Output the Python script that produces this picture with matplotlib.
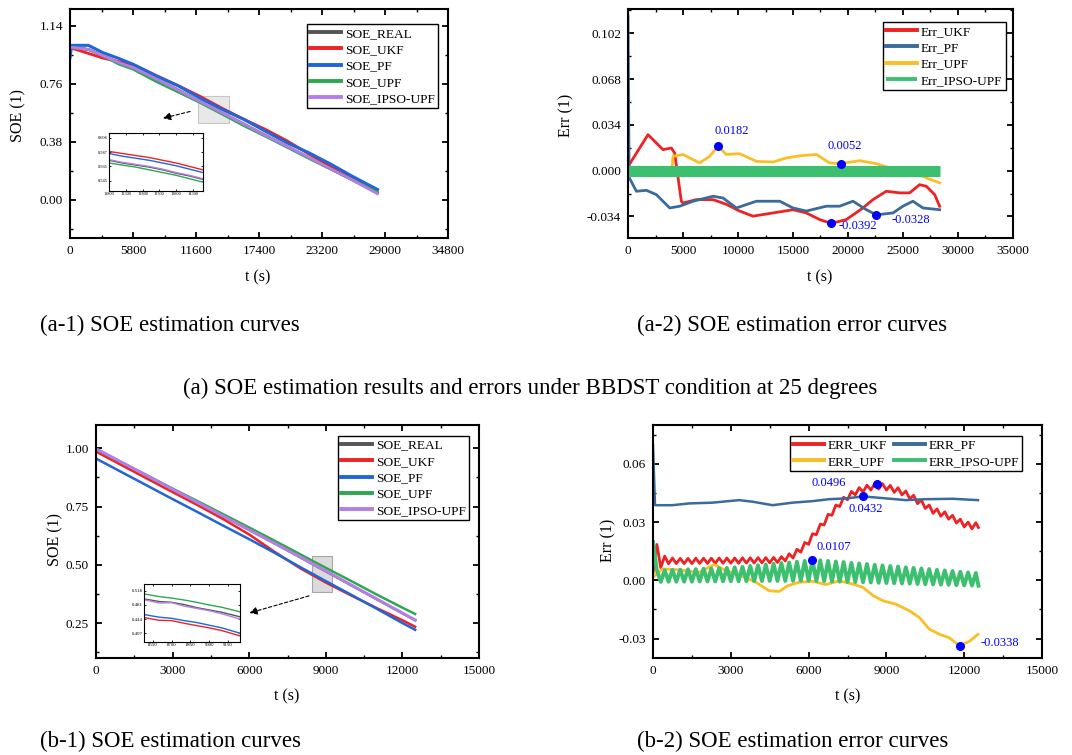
import numpy as np
import matplotlib
matplotlib.use('Agg')
import matplotlib.pyplot as plt
from matplotlib.ticker import MultipleLocator, FormatStrFormatter, FixedLocator
from matplotlib.patches import Rectangle

# ---------------- data: (a-1) SOE curves, BBDST 25 deg ----------------
a1_t = [0, 1700, 3000, 4500, 5800, 8000, 10000, 12000, 14000, 16000, 18000, 20000, 22000, 24000, 26000, 28300]
a1_real = [1.000, 0.985, 0.945, 0.900, 0.865, 0.790, 0.718, 0.643, 0.570, 0.497, 0.423, 0.350, 0.277, 0.203, 0.130, 0.045]
a1_ukf = [0.997, 0.959, 0.929, 0.905, 0.887, 0.812, 0.747, 0.677, 0.600, 0.528, 0.461, 0.386, 0.300, 0.219, 0.142, 0.066]
a1_pf_t = [0, 150, 1700, 3000, 4500, 5800, 8000, 10000, 12000, 14000, 16000, 18000, 20000, 22000, 24000, 26000, 28300]
a1_pf = [0.930, 1.012, 1.012, 0.965, 0.926, 0.888, 0.810, 0.745, 0.665, 0.593, 0.527, 0.449, 0.373, 0.308, 0.234, 0.154, 0.068]
a1_upf = [1.000, 0.985, 0.945, 0.889, 0.856, 0.773, 0.705, 0.636, 0.562, 0.486, 0.416, 0.344, 0.271, 0.201, 0.131, 0.050]
a1_ipso = [1.000, 0.985, 0.945, 0.899, 0.866, 0.790, 0.717, 0.643, 0.571, 0.497, 0.422, 0.350, 0.278, 0.203, 0.130, 0.040]

a1_in_t = [11800, 12200, 12600, 13000, 13400, 13800, 14200, 14600]
a1_in_real = [0.575, 0.571, 0.568, 0.565, 0.561, 0.556, 0.552, 0.547]
a1_in_ukf = [0.588, 0.585, 0.582, 0.579, 0.575, 0.571, 0.566, 0.561]
a1_in_pf = [0.585, 0.581, 0.578, 0.575, 0.571, 0.567, 0.562, 0.557]
a1_in_upf = [0.571, 0.568, 0.565, 0.561, 0.557, 0.553, 0.548, 0.543]
a1_in_ipso = [0.576, 0.572, 0.569, 0.566, 0.562, 0.557, 0.553, 0.548]

# ---------------- data: (a-2) errors ----------------
a2_ukf_t = [0, 1820, 3180, 3940, 4240, 4850, 5000, 6210, 7730, 8940, 10150, 11360, 13180, 15000, 16210, 17420,
            18480, 19850, 21360, 22270, 23480, 24690, 25600, 26510, 27120, 27880, 28330]
a2_ukf = [0.003, 0.0267, 0.0156, 0.0168, 0.0131, -0.0227, -0.024, -0.0215, -0.0215, -0.025, -0.030, -0.0338, -0.0314,
          -0.029, -0.0314, -0.0363, -0.0392, -0.0363, -0.0277, -0.0215, -0.0153, -0.0165, -0.0165, -0.0104, -0.0116,
          -0.0178, -0.0264]
a2_pf_t = [0, 100, 760, 1670, 2580, 3790, 4700, 5910, 7730, 8640, 9850, 11670, 13790, 15000, 16210, 18030, 19240,
           20450, 21670, 22570, 24090, 24990, 25900, 26810, 28330]
a2_pf = [0.115, -0.005, -0.0153, -0.0146, -0.0178, -0.0277, -0.0264, -0.0227, -0.019, -0.0203, -0.0277, -0.0227,
         -0.0227, -0.0277, -0.030, -0.0264, -0.0264, -0.0227, -0.029, -0.0328, -0.0314, -0.0264, -0.0227, -0.0277, -0.029]
a2_upf_t = [4000, 4090, 5000, 6510, 7420, 8180, 8940, 10150, 11670, 13180, 14390, 15600, 17120, 18330, 19330, 21060,
            22570, 23790, 25300, 26210, 27120, 28330]
a2_upf = [0.001, 0.0106, 0.012, 0.0057, 0.0106, 0.0182, 0.012, 0.0126, 0.0069, 0.0064, 0.0094, 0.011, 0.012, 0.0057,
          0.0052, 0.0074, 0.0052, 0.002, 0.0007, -0.0017, -0.0054, -0.0091]
a2_ipso_t = [0, 7000, 14000, 21000, 28400]
a2_ipso = [0.0, 0.0, 0.0, 0.0, 0.0]
a2_marks_t = [8180, 19330, 18480, 22570]
a2_marks_v = [0.0182, 0.0052, -0.0392, -0.0328]
a2_marks_lbl = ['0.0182', '0.0052', '-0.0392', '-0.0328']

# ---------------- data: (b-1) SOE curves ----------------
b1_t = [0, 1000, 2000, 3000, 4000, 5000, 6000, 7000, 8000, 9000, 10000, 11000, 12000, 12500]
b1_real = [0.996, 0.938, 0.880, 0.822, 0.765, 0.707, 0.650, 0.592, 0.532, 0.472, 0.412, 0.352, 0.292, 0.262]
b1_ukf = [0.986, 0.928, 0.870, 0.812, 0.755, 0.695, 0.630, 0.555, 0.485, 0.424, 0.368, 0.314, 0.262, 0.234]
b1_pf = [0.956, 0.898, 0.840, 0.782, 0.725, 0.667, 0.610, 0.551, 0.490, 0.430, 0.371, 0.311, 0.250, 0.221]
b1_upf = [0.996, 0.940, 0.884, 0.827, 0.772, 0.716, 0.660, 0.603, 0.545, 0.487, 0.430, 0.372, 0.316, 0.289]
b1_ipso = [0.998, 0.940, 0.882, 0.824, 0.766, 0.708, 0.650, 0.592, 0.533, 0.473, 0.413, 0.353, 0.293, 0.263]

b1_in_t = [8478, 8600, 8700, 8800, 8900, 9000, 9100, 9246]
b1_in_real = [0.497, 0.490, 0.488, 0.482, 0.474, 0.468, 0.462, 0.450]
b1_in_ukf = [0.448, 0.441, 0.440, 0.433, 0.427, 0.421, 0.414, 0.400]
b1_in_pf = [0.456, 0.449, 0.446, 0.440, 0.435, 0.428, 0.421, 0.407]
b1_in_upf = [0.510, 0.503, 0.499, 0.494, 0.488, 0.481, 0.475, 0.463]
b1_in_ipso = [0.495, 0.486, 0.487, 0.478, 0.472, 0.466, 0.458, 0.444]

# ---------------- data: (b-2) errors ----------------
b2_t = [0, 150, 300, 450, 600, 750, 900, 1050, 1200, 1350, 1500, 1650, 1800, 1950, 2100, 2250, 2400, 2550, 2700,
        2850, 3000, 3150, 3300, 3450, 3600, 3750, 3900, 4050, 4200, 4350, 4500, 4650, 4800, 4950, 5100, 5250, 5400,
        5550, 5700, 5850, 6000, 6150, 6300, 6450, 6600, 6750, 6900, 7050, 7200, 7350, 7500, 7650, 7800, 7950, 8100,
        8250, 8400, 8550, 8700, 8850, 9000, 9150, 9300, 9450, 9600, 9750, 9900, 10050, 10200, 10350, 10500, 10650,
        10800, 10950, 11100, 11250, 11400, 11550, 11700, 11850, 12000, 12150, 12300, 12450, 12550]
b2_ukf = [0.0040, 0.0185, 0.0065, 0.0125, 0.0085, 0.0115, 0.0086, 0.0113, 0.0086, 0.0113, 0.0086, 0.0114, 0.0087,
          0.0114, 0.0087, 0.0114, 0.0087, 0.0115, 0.0088, 0.0115, 0.0088, 0.0115, 0.0088, 0.0116, 0.0089, 0.0116,
          0.0089, 0.0117, 0.0090, 0.0117, 0.0090, 0.0118, 0.0092, 0.0122, 0.0100, 0.0137, 0.0115, 0.0160, 0.0145,
          0.0195, 0.0185, 0.0240, 0.0235, 0.0290, 0.0285, 0.0340, 0.0335, 0.0388, 0.0380, 0.0428, 0.0415, 0.0458,
          0.0440, 0.0478, 0.0455, 0.0490, 0.0465, 0.0498, 0.0470, 0.0498, 0.0465, 0.0489, 0.0453, 0.0477, 0.0440,
          0.0460, 0.0420, 0.0438, 0.0395, 0.0413, 0.0370, 0.0388, 0.0345, 0.0368, 0.0330, 0.0353, 0.0315, 0.0335,
          0.0295, 0.0315, 0.0275, 0.0300, 0.0265, 0.0297, 0.0272]
b2_ipso = [0.0197, 0.0051, -0.0008, 0.0052, -0.0007, 0.0054, -0.0007, 0.0055, -0.0007, 0.0057, -0.0007, 0.0058,
           -0.0006, 0.0060, -0.0006, 0.0061, -0.0006, 0.0063, -0.0005, 0.0064, -0.0005, 0.0067, -0.0005, 0.0070,
           -0.0004, 0.0074, -0.0004, 0.0078, -0.0004, 0.0081, -0.0003, 0.0085, -0.0003, 0.0089, -0.0003, 0.0092,
           -0.0003, 0.0096, -0.0002, 0.0100, -0.0002, 0.0103, -0.0003, 0.0103, -0.0004, 0.0100, -0.0006, 0.0097,
           -0.0007, 0.0094, -0.0008, 0.0090, -0.0009, 0.0087, -0.0010, 0.0084, -0.0011, 0.0080, -0.0013, 0.0077,
           -0.0014, 0.0074, -0.0015, 0.0071, -0.0016, 0.0067, -0.0017, 0.0064, -0.0019, 0.0061, -0.0020, 0.0058,
           -0.0021, 0.0054, -0.0022, 0.0051, -0.0023, 0.0048, -0.0025, 0.0044, -0.0026, 0.0041, -0.0027, 0.0038,
           -0.0028]
b2_pf_t = [0, 77, 747, 1390, 2290, 3320, 3840, 4610, 5380, 6155, 6800, 7440, 8110, 8990, 9760, 10530, 11560, 12530]
b2_pf = [0.0698, 0.0387, 0.0387, 0.0396, 0.0400, 0.0413, 0.0405, 0.0387, 0.0400, 0.0408, 0.0418, 0.0422, 0.0432,
         0.0422, 0.0413, 0.0418, 0.0420, 0.0413]
b2_upf_t = [0, 360, 1000, 1780, 2360, 2810, 3320, 3970, 4480, 4870, 5190, 5640, 6155, 6670, 7185, 7700, 8090, 8500,
            8860, 9370, 9890, 10275, 10660, 11050, 11430, 11820, 12210, 12530]
b2_upf = [0.0016, 0.0059, 0.0054, 0.0041, 0.0081, 0.0050, 0.0029, -0.0010, -0.0054, -0.0057, -0.0028, -0.0010,
          -0.0005, -0.0022, -0.0002, -0.0019, -0.0036, -0.0080, -0.0105, -0.0123, -0.0157, -0.0192, -0.0252, -0.0278,
          -0.0296, -0.0338, -0.0313, -0.0278]
b2_marks_t = [8627, 8112, 6129, 11820]
b2_marks_v = [0.0496, 0.0432, 0.0107, -0.0338]
b2_marks_lbl = ['0.0496', '0.0432', '0.0107', '-0.0338']

# ---------------- styling ----------------
W, H = 1072, 755
plt.rcParams['font.family'] = ['Liberation Serif', 'DejaVu Serif']
fig = plt.figure(figsize=(W / 100, H / 100), dpi=100)


def box(x0, y0, x1, y1):
    return [x0 / W, 1 - y1 / H, (x1 - x0) / W, (y1 - y0) / H]


def style(ax, xmaj, ymaj, fmt, fs=9.5):
    ax.xaxis.set_major_locator(MultipleLocator(xmaj))
    ax.xaxis.set_minor_locator(MultipleLocator(xmaj / 2))
    ax.yaxis.set_major_locator(MultipleLocator(ymaj))
    ax.yaxis.set_minor_locator(MultipleLocator(ymaj / 2))
    ax.yaxis.set_major_formatter(FormatStrFormatter(fmt))
    ax.tick_params(which='both', direction='in', top=True, right=True, labelsize=fs)
    ax.tick_params(which='major', length=4, width=1.3, pad=5)
    ax.tick_params(which='minor', length=2.5, width=1.0)
    for s in ax.spines.values():
        s.set_linewidth(1.5)


LEG = dict(loc='upper left', borderaxespad=0, fontsize=9.6, handlelength=2.3, handletextpad=0.3,
           labelspacing=0.3, borderpad=0.25, columnspacing=0.5, fancybox=False, framealpha=1,
           edgecolor='black')


def finish_legend(lg):
    lg.get_frame().set_linewidth(1.0)
    for h in lg.get_lines():
        h.set_linewidth(2.8)
    return lg


C_REAL = '#555555'
C_RED = '#ee2222'
C_BLUE1 = '#1f66d8'
C_GREEN1 = '#2ea84e'
C_PURPLE = '#b57ee6'
C_STEEL = '#3a6b9c'
C_GOLD = '#fbbf24'
C_GREEN2 = '#3cc070'
C_MARK = '#0000ff'

# ---------------- (a-1) ----------------
ax = fig.add_axes(box(70, 9, 448, 238))
ax.plot(a1_t, a1_real, color=C_REAL, lw=2, label='SOE_REAL')
ax.plot(a1_t, a1_ukf, color=C_RED, lw=2, label='SOE_UKF')
ax.plot(a1_pf_t, a1_pf, color=C_BLUE1, lw=2.2, label='SOE_PF')
ax.plot(a1_t, a1_upf, color=C_GREEN1, lw=2, label='SOE_UPF')
ax.plot(a1_t, a1_ipso, color=C_PURPLE, lw=2, label='SOE_IPSO-UPF')
ax.set_xlim(0, 34800)
ax.set_ylim(-0.25, 1.25)
style(ax, 5800, 0.38, '%.2f')
finish_legend(ax.legend(bbox_to_anchor=(0.627, 0.934), **LEG))
ax.add_patch(Rectangle((11784, 0.502), 2854, 0.175, facecolor='#d9d9d9', edgecolor='#aaaaaa', lw=0.8, alpha=0.6))
ax.annotate('', xy=(8300, 0.530), xytext=(11300, 0.583),
            arrowprops=dict(arrowstyle='-|>', color='black', lw=0.8, ls=(0, (3, 2)), mutation_scale=12))
fig.text(18 / W, 1 - 115 / H, 'SOE (1)', rotation=90, ha='center', va='center', fontsize=11.5)
fig.text(258 / W, 1 - 277 / H, 't (s)', ha='center', va='center', fontsize=11.5)

ins = fig.add_axes(box(109, 133, 203, 191))
ins.plot(a1_in_t, a1_in_real, color=C_REAL, lw=1)
ins.plot(a1_in_t, a1_in_ukf, color=C_RED, lw=1)
ins.plot(a1_in_t, a1_in_pf, color=C_BLUE1, lw=1)
ins.plot(a1_in_t, a1_in_upf, color=C_GREEN1, lw=1)
ins.plot(a1_in_t, a1_in_ipso, color=C_PURPLE, lw=1)
ins.set_xlim(11800, 14600)
ins.set_ylim(0.530, 0.615)
ins.xaxis.set_major_locator(FixedLocator([11800, 12300, 12800, 13300, 13800, 14300]))
ins.yaxis.set_major_locator(FixedLocator([0.545, 0.566, 0.587, 0.608]))
ins.yaxis.set_major_formatter(FormatStrFormatter('%.3f'))
ins.tick_params(direction='in', top=True, right=True, labelsize=3.2, length=1.5, width=0.6, pad=1)
for s in ins.spines.values():
    s.set_linewidth(0.8)

# ---------------- (a-2) ----------------
ax = fig.add_axes(box(628, 9, 1013, 238))
ax.plot(a2_ukf_t, a2_ukf, color=C_RED, lw=2, label='Err_UKF')
ax.plot(a2_pf_t, a2_pf, color=C_STEEL, lw=2, label='Err_PF')
ax.plot(a2_upf_t, a2_upf, color=C_GOLD, lw=2, label='Err_UPF')
ax.plot(a2_ipso_t, a2_ipso, color=C_GREEN2, lw=8, solid_capstyle='butt', label='Err_IPSO-UPF')
ax.plot(a2_marks_t, a2_marks_v, 'o', color=C_MARK, ms=5.5, zorder=5)
ax.text(7900, 0.0295, a2_marks_lbl[0], color=C_MARK, fontsize=9, va='center')
ax.text(18100, 0.0180, a2_marks_lbl[1], color=C_MARK, fontsize=9, va='center')
ax.text(19150, -0.0413, a2_marks_lbl[2], color=C_MARK, fontsize=9, va='center')
ax.text(24000, -0.0368, a2_marks_lbl[3], color=C_MARK, fontsize=9, va='center')
ax.set_xlim(0, 35000)
ax.set_ylim(-0.05, 0.12)
style(ax, 5000, 0.034, '%.3f')
finish_legend(ax.legend(bbox_to_anchor=(0.662, 0.943), **LEG))
fig.text(566 / W, 1 - 115 / H, 'Err (1)', rotation=90, ha='center', va='center', fontsize=11.5)
fig.text(820 / W, 1 - 277 / H, 't (s)', ha='center', va='center', fontsize=11.5)

# ---------------- (b-1) ----------------
ax = fig.add_axes(box(96, 425, 479, 658))
ax.plot(b1_t, b1_real, color=C_REAL, lw=1.8, label='SOE_REAL')
ax.plot(b1_t, b1_ukf, color=C_RED, lw=1.8, label='SOE_UKF')
ax.plot(b1_t, b1_pf, color=C_BLUE1, lw=1.8, label='SOE_PF')
ax.plot(b1_t, b1_upf, color=C_GREEN1, lw=1.8, label='SOE_UPF')
ax.plot(b1_t, b1_ipso, color=C_PURPLE, lw=2.2, label='SOE_IPSO-UPF')
ax.set_xlim(0, 15000)
ax.set_ylim(0.1, 1.1)
style(ax, 3000, 0.25, '%.2f')
finish_legend(ax.legend(bbox_to_anchor=(0.632, 0.953), **LEG))
ax.add_patch(Rectangle((8478, 0.384), 768, 0.152, facecolor='#cccccc', edgecolor='#888888', lw=0.8, alpha=0.7))
ax.annotate('', xy=(5900, 0.290), xytext=(8450, 0.370),
            arrowprops=dict(arrowstyle='-|>', color='black', lw=0.8, ls=(0, (3, 2)), mutation_scale=12))
fig.text(55 / W, 1 - 540 / H, 'SOE (1)', rotation=90, ha='center', va='center', fontsize=11.5)
fig.text(287 / W, 1 - 696 / H, 't (s)', ha='center', va='center', fontsize=11.5)

ins = fig.add_axes(box(144, 584, 240, 642))
ins.plot(b1_in_t, b1_in_real, color=C_REAL, lw=1)
ins.plot(b1_in_t, b1_in_ukf, color=C_RED, lw=1)
ins.plot(b1_in_t, b1_in_pf, color=C_BLUE1, lw=1)
ins.plot(b1_in_t, b1_in_upf, color=C_GREEN1, lw=1)
ins.plot(b1_in_t, b1_in_ipso, color=C_PURPLE, lw=1)
ins.set_xlim(8478, 9246)
ins.set_ylim(0.384, 0.536)
ins.xaxis.set_major_locator(FixedLocator([8550, 8700, 8850, 9000, 9150]))
ins.yaxis.set_major_locator(FixedLocator([0.407, 0.444, 0.481, 0.518]))
ins.yaxis.set_major_formatter(FormatStrFormatter('%.3f'))
ins.tick_params(direction='in', top=True, right=True, labelsize=3.5, length=1.5, width=0.6, pad=1)
for s in ins.spines.values():
    s.set_linewidth(0.8)

# ---------------- (b-2) ----------------
ax = fig.add_axes(box(653, 425, 1042, 658))
l_ukf, = ax.plot(b2_t, b2_ukf, color=C_RED, lw=2, label='ERR_UKF')
l_pf, = ax.plot(b2_pf_t, b2_pf, color=C_STEEL, lw=1.8, label='ERR_PF')
l_upf, = ax.plot(b2_upf_t, b2_upf, color=C_GOLD, lw=2, label='ERR_UPF')
l_ipso, = ax.plot(b2_t, b2_ipso, color=C_GREEN2, lw=2.8, label='ERR_IPSO-UPF')
ax.plot(b2_marks_t, b2_marks_v, 'o', color=C_MARK, ms=5.5, zorder=5)
ax.text(6129, 0.0500, b2_marks_lbl[0], color=C_MARK, fontsize=9, va='center')
ax.text(7545, 0.0365, b2_marks_lbl[1], color=C_MARK, fontsize=9, va='center')
ax.text(6322, 0.0171, b2_marks_lbl[2], color=C_MARK, fontsize=9, va='center')
ax.text(12631, -0.0322, b2_marks_lbl[3], color=C_MARK, fontsize=9, va='center')
ax.set_xlim(0, 15000)
ax.set_ylim(-0.04, 0.08)
style(ax, 3000, 0.03, '%.2f')
finish_legend(ax.legend([l_ukf, l_upf, l_pf, l_ipso], ['ERR_UKF', 'ERR_UPF', 'ERR_PF', 'ERR_IPSO-UPF'],
                        bbox_to_anchor=(0.352, 0.953), ncol=2, **LEG))
fig.text(608 / W, 1 - 540 / H, 'Err (1)', rotation=90, ha='center', va='center', fontsize=11.5)
fig.text(848 / W, 1 - 696 / H, 't (s)', ha='center', va='center', fontsize=11.5)

# ---------------- captions ----------------
cap = 16.5
fig.text(40 / W, 1 - 325 / H, '(a-1) SOE estimation curves', ha='left', va='center', fontsize=cap)
fig.text(637 / W, 1 - 325 / H, '(a-2) SOE estimation error curves', ha='left', va='center', fontsize=cap)
fig.text(530 / W, 1 - 388 / H, '(a) SOE estimation results and errors under BBDST condition at 25 degrees',
         ha='center', va='center', fontsize=cap)
fig.text(40 / W, 1 - 741 / H, '(b-1) SOE estimation curves', ha='left', va='center', fontsize=cap)
fig.text(637 / W, 1 - 741 / H, '(b-2) SOE estimation error curves', ha='left', va='center', fontsize=cap)

fig.savefig('out.png', dpi=100)
